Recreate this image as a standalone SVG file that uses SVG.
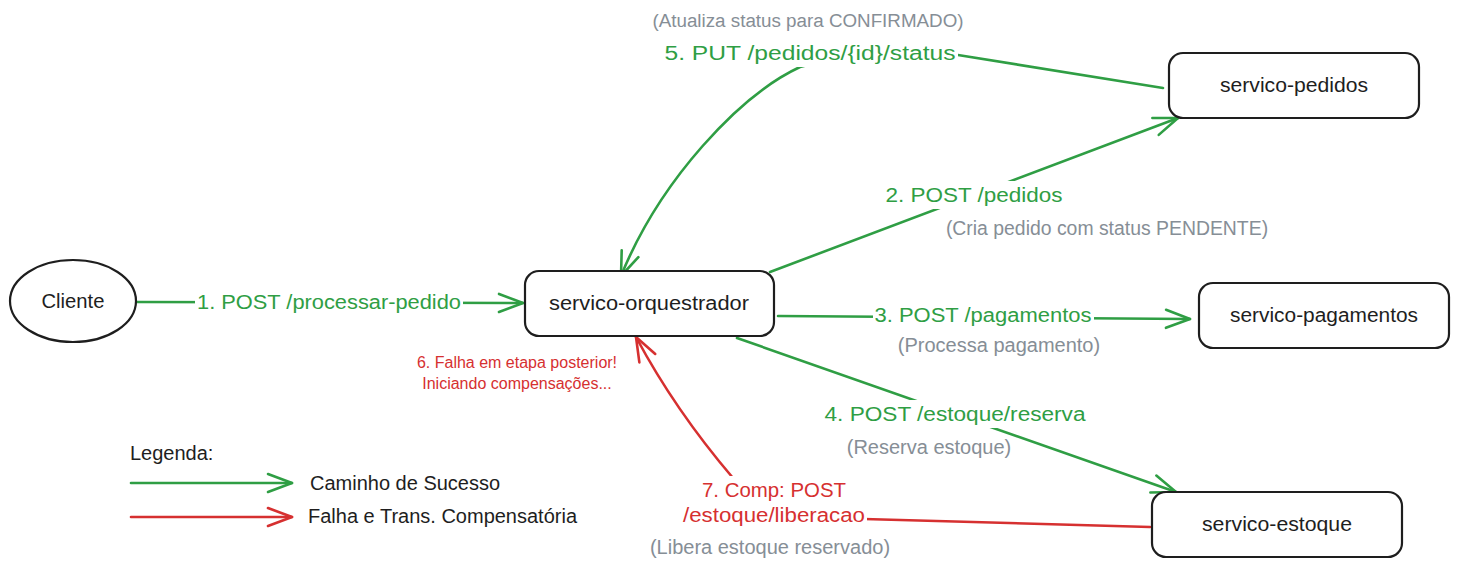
<svg xmlns="http://www.w3.org/2000/svg" width="1458" height="569" viewBox="0 0 1458 569">
<style>
.node{fill:#ffffff;stroke:#1e1e1e;stroke-width:2.2}
.nl{font-family:"Liberation Sans",Arial,sans-serif;font-size:20px;fill:#1e1e1e;text-anchor:middle}
.gl{font-family:"Liberation Sans",Arial,sans-serif;font-size:20px;fill:#2f9e44;text-anchor:middle}
.rl{font-family:"Liberation Sans",Arial,sans-serif;font-size:20px;fill:#d63030;text-anchor:middle}
.gray{font-family:"Liberation Sans",Arial,sans-serif;font-size:20px;fill:#868e96;text-anchor:middle}
.note{font-family:"Liberation Sans",Arial,sans-serif;font-size:16px;fill:#d63030;text-anchor:middle}
.leg{font-family:"Liberation Sans",Arial,sans-serif;font-size:20px;fill:#1e1e1e}
.g{fill:none;stroke:#2f9e44;stroke-width:2.6;stroke-linecap:round}
.r{fill:none;stroke:#d63030;stroke-width:2.6;stroke-linecap:round}
.bg{fill:#ffffff}
</style>
<defs>
<marker id="ag" markerUnits="userSpaceOnUse" markerWidth="30" markerHeight="24" refX="24" refY="10" orient="auto" overflow="visible">
<path d="M0,1 L24,10 L0,19" fill="none" stroke="#2f9e44" stroke-width="2.6" stroke-linecap="round" stroke-linejoin="round"/>
</marker>
<marker id="ar" markerUnits="userSpaceOnUse" markerWidth="30" markerHeight="24" refX="24" refY="10" orient="auto" overflow="visible">
<path d="M0,1 L24,10 L0,19" fill="none" stroke="#d63030" stroke-width="2.6" stroke-linecap="round" stroke-linejoin="round"/>
</marker>
</defs>
<rect width="1458" height="569" fill="#ffffff"/>

<g id="connectors">
<path id="c1" class="g" d="M137,302 L523,303" marker-end="url(#ag)"/>
<path id="c2" class="g" d="M770,272 L1178,118" marker-end="url(#ag)"/>
<path id="c3" class="g" d="M778,316 L1190,319" marker-end="url(#ag)"/>
<path id="c4" class="g" d="M737,338 L1176,492" marker-end="url(#ag)"/>
<path id="c5" class="g" d="M1163,88 L958,55 C900,50 840,55 800,67 C740,95 660,180 621,276" marker-end="url(#ag)"/>
<path id="c7" class="r" d="M1150,527 Q1000,523 864,519 C820,517 760,500 733,478 Q675,410 636,337" marker-end="url(#ar)"/>
</g>

<g id="labels">
<rect class="bg" x="195" y="288" width="268" height="28"/>
<text class="gl" x="329" y="309" textLength="264" lengthAdjust="spacingAndGlyphs">1. POST /processar-pedido</text>
<rect class="bg" x="883" y="181" width="182" height="28"/>
<text class="gl" x="974" y="202" textLength="177" lengthAdjust="spacingAndGlyphs">2. POST /pedidos</text>
<rect class="bg" x="873" y="301" width="221" height="28"/>
<text class="gl" x="983" y="322" textLength="217" lengthAdjust="spacingAndGlyphs">3. POST /pagamentos</text>
<rect class="bg" x="823" y="400" width="265" height="28"/>
<text class="gl" x="955" y="421" textLength="261" lengthAdjust="spacingAndGlyphs">4. POST /estoque/reserva</text>
<rect class="bg" x="663" y="39" width="295" height="28"/>
<text class="gl" x="810" y="60" textLength="291" lengthAdjust="spacingAndGlyphs">5. PUT /pedidos/{id}/status</text>
<rect class="bg" x="681" y="476" width="186" height="52"/>
<text class="rl" x="774" y="497" textLength="144" lengthAdjust="spacingAndGlyphs">7. Comp: POST</text>
<text class="rl" x="774" y="522" textLength="182" lengthAdjust="spacingAndGlyphs">/estoque/liberacao</text>

<text class="gray" x="808" y="27" style="font-size:18.8px">(Atualiza status para CONFIRMADO)</text>
<text class="gray" x="1107" y="235" style="font-size:19.4px">(Cria pedido com status PENDENTE)</text>
<text class="gray" x="999" y="352">(Processa pagamento)</text>
<text class="gray" x="929" y="454">(Reserva estoque)</text>
<text class="gray" x="770" y="554">(Libera estoque reservado)</text>

<text class="note" x="517" y="368">6. Falha em etapa posterior!</text>
<text class="note" x="517" y="389">Iniciando compensações...</text>
</g>

<g id="node-cliente">
<ellipse class="node" cx="73" cy="301" rx="63" ry="41"/>
<text class="nl" x="73" y="308" textLength="63" lengthAdjust="spacingAndGlyphs">Cliente</text>
</g>
<g id="node-orquestrador">
<rect class="node" x="525" y="271" width="249" height="65" rx="14"/>
<text class="nl" x="649" y="310" textLength="200" lengthAdjust="spacingAndGlyphs">servico-orquestrador</text>
</g>
<g id="node-pedidos">
<rect class="node" x="1169" y="53" width="250" height="65" rx="14"/>
<text class="nl" x="1294" y="92" textLength="148" lengthAdjust="spacingAndGlyphs">servico-pedidos</text>
</g>
<g id="node-pagamentos">
<rect class="node" x="1199" y="283" width="250" height="65" rx="14"/>
<text class="nl" x="1324" y="322" textLength="188" lengthAdjust="spacingAndGlyphs">servico-pagamentos</text>
</g>
<g id="node-estoque">
<rect class="node" x="1152" y="492" width="250" height="65" rx="14"/>
<text class="nl" x="1277" y="531" textLength="150" lengthAdjust="spacingAndGlyphs">servico-estoque</text>
</g>

<g id="legend">
<text class="leg" x="130" y="460">Legenda:</text>
<path class="g" d="M131,483 L292,483" marker-end="url(#ag)"/>
<text class="leg" x="310" y="490">Caminho de Sucesso</text>
<path class="r" d="M131,517 L292,517" marker-end="url(#ar)"/>
<text class="leg" x="308" y="523">Falha e Trans. Compensatória</text>
</g>
</svg>
